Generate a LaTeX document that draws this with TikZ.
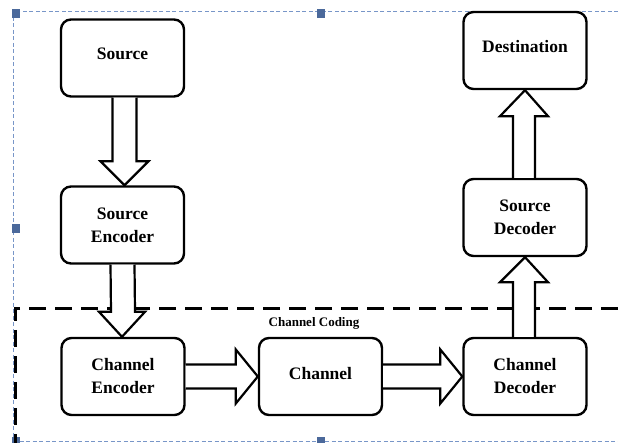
\documentclass[tikz,border=0pt]{standalone}
\usepackage{fontspec}
\setmainfont{Liberation Serif}
\usetikzlibrary{calc}
\definecolor{selblue}{RGB}{120,150,200}
\definecolor{handleblue}{RGB}{75,105,155}
\tikzset{
  blockbox/.style={draw=black, line width=2.4pt, rounded corners=10pt, fill=white,
    minimum width=123pt, minimum height=77pt, inner sep=0pt, align=center,
    font=\fontsize{17.5}{23}\selectfont\bfseries},
  blockarrow/.style={draw=black, line width=2.2pt, fill=white, line join=miter},
  regionline/.style={draw=black, line width=3pt, dash pattern=on 17pt off 9pt},
  selframe/.style={draw=selblue, line width=0.9pt, dash pattern=on 4pt off 2.5pt},
  handle/.style={fill=handleblue, draw=none, minimum width=8pt, minimum height=9pt, inner sep=0pt},
  regionlabel/.style={font=\fontsize{13}{15}\selectfont\bfseries, inner sep=0pt}
}
\begin{document}
\begin{tikzpicture}[x=1pt,y=-1pt]
\useasboundingbox (0,0) rectangle (618,443);
% selection frame
\coordinate (f1) at (13,11);
\coordinate (f2) at (618,11);
\coordinate (f3) at (13,443);
\coordinate (f4) at (13,441);
\coordinate (f5) at (618,441);
\draw[selframe] (f2) -- (f1) -- (f3);
\draw[selframe] (f4) -- (f5);
\node[handle] (h1) at (16,14) {};
\node[handle] (h2) at (321,14) {};
\node[handle] (h3) at (16,229) {};
\node[handle] (h4) at (16,441) {};
\node[handle] (h5) at (321,441) {};
% channel coding region
\coordinate (r1) at (618,309);
\coordinate (r2) at (15,309);
\coordinate (r3) at (15,443);
\draw[regionline] (r1) -- (r2) -- (r3);
\node[regionlabel] (cc) at (314,323.5) {Channel Coding};
% boxes
\node[blockbox] (src)  at (122.5,58)  {\raisebox{8pt}{Source}};
\node[blockbox] (senc) at (122.5,225) {Source\\Encoder};
\node[blockbox] (cenc) at (123,376.5) {Channel\\Encoder};
\node[blockbox] (chan) at (320.5,376.5) {\raisebox{6pt}{Channel}};
\node[blockbox] (cdec) at (525,376.5) {Channel\\Decoder};
\node[blockbox] (sdec) at (525,217.5) {Source\\Decoder};
\node[blockbox] (dest) at (525,50.5) {\raisebox{8pt}{Destination}};
% block arrows: down
\draw[blockarrow] ($(src.south)+(-10,0)$) -- ($(senc.north)+(-10,-24)$) -- ($(senc.north)+(-22,-24)$)
  -- ($(senc.north)+(2,0)$) -- ($(senc.north)+(26,-24)$) -- ($(senc.north)+(14,-24)$)
  -- ($(src.south)+(14,0)$);
\draw[blockarrow] ($(senc.south)+(-12,0)$) -- ($(cenc.north)+(-12,-25)$) -- ($(cenc.north)+(-24,-25)$)
  -- ($(cenc.north)+(-1,0)$) -- ($(cenc.north)+(22,-25)$) -- ($(cenc.north)+(12,-25)$)
  -- ($(senc.south)+(12,0)$);
% right
\draw[blockarrow] ($(cenc.east)+(0,-12)$) -- ($(chan.west)+(-22,-12)$) -- ($(chan.west)+(-22,-27)$)
  -- (chan.west) -- ($(chan.west)+(-22,27)$) -- ($(chan.west)+(-22,12)$)
  -- ($(cenc.east)+(0,12)$);
\draw[blockarrow] ($(chan.east)+(0,-12)$) -- ($(cdec.west)+(-22,-12)$) -- ($(cdec.west)+(-22,-27)$)
  -- (cdec.west) -- ($(cdec.west)+(-22,27)$) -- ($(cdec.west)+(-22,12)$)
  -- ($(chan.east)+(0,12)$);
% up
\draw[blockarrow] ($(cdec.north)+(-12,0)$) -- ($(sdec.south)+(-12,25)$) -- ($(sdec.south)+(-25,25)$)
  -- (sdec.south) -- ($(sdec.south)+(23,25)$) -- ($(sdec.south)+(10,25)$)
  -- ($(cdec.north)+(10,0)$);
\draw[blockarrow] ($(sdec.north)+(-12,0)$) -- ($(dest.south)+(-12,26)$) -- ($(dest.south)+(-25,26)$)
  -- (dest.south) -- ($(dest.south)+(23,26)$) -- ($(dest.south)+(10,26)$)
  -- ($(sdec.north)+(10,0)$);
\end{tikzpicture}
\end{document}
